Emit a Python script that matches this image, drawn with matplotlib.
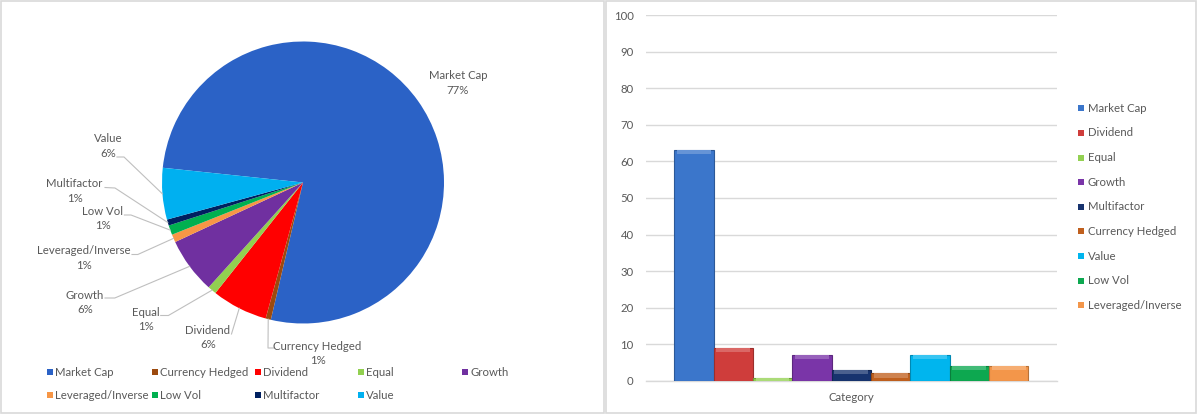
import numpy as np
import matplotlib
matplotlib.use("Agg")
import matplotlib.pyplot as plt
from matplotlib.patches import Rectangle
from matplotlib.colors import to_rgb

plt.rcParams['font.family'] = ['Lato', 'DejaVu Sans']

# ---------------- data ----------------
pie_labels = ["Market Cap", "Currency Hedged", "Dividend", "Equal", "Growth",
              "Leveraged/Inverse", "Low Vol", "Multifactor", "Value"]
pie_values = [77.0, 0.6, 6.4, 1.0, 6.4, 0.9, 1.1, 0.7, 5.9]
pie_colors = ["#2B62C6", "#9C4A0E", "#FF0000", "#92D050", "#7030A0",
              "#F79646", "#00B050", "#002060", "#00B0F0"]

bar_labels = ["Market Cap", "Dividend", "Equal", "Growth", "Multifactor",
              "Currency Hedged", "Value", "Low Vol", "Leveraged/Inverse"]
bar_values = [63, 9, 0.8, 7, 3, 2, 7, 4, 4]
bar_colors = ["#3B76CB", "#CF3D3B", "#93D152", "#7A35A8", "#17336E",
              "#C0601E", "#00B5EE", "#0DA850", "#F3964A"]
category = ["Category"]
yticks = list(range(0, 101, 10))

TXT = "#595959"
GRID = "#D9D9D9"
FS = 8.2

W, H = 1200, 416
fig = plt.figure(figsize=(12, 4.16), dpi=100)

# overlay axes in pixel units (y up)
ax0 = fig.add_axes([0, 0, 1, 1])

def Y(py):
    return H - py

# panel borders
ax0.add_patch(Rectangle((1, Y(413)), 603, 412.5, fill=False, ec="#D9D9D9", lw=1.2))
ax0.add_patch(Rectangle((605.5, Y(413)), 590.5, 412.5, fill=False, ec="#D9D9D9", lw=1.2))

# ---------------- pie ----------------
cx, cy, R = 303, Y(182.5), 141
wedges, _ = ax0.pie(pie_values, colors=pie_colors, startangle=174, counterclock=False,
                    center=(cx, cy), radius=R, wedgeprops=dict(linewidth=0))

# label layout (pixel positions of label centres and leader knees)
label_pos = [(458, 83), (317.6, 353.5), (207.8, 337.5), (146, 319.5), (85, 302.3),
             (83.5, 258), (102.6, 218.4), (74.6, 191), (108.5, 146)]
leader_knees = [None,
                [(273.6, 348), (268, 348)],
                [(231.5, 334)],
                [(160.7, 315.5), (168.4, 315.5)],
                [(105, 298), (114.8, 298)],
                [(132, 254.5), (137.8, 254.5)],
                [(124.4, 215), (131, 215)],
                [(105, 187.5), (115, 188)],
                [(117, 157), (124, 157)]]

for w, name, v, pos, knees in zip(wedges, pie_labels, pie_values, label_pos, leader_knees):
    ax0.text(pos[0], Y(pos[1]), f"{name}\n{round(v)}%", ha="center", va="center",
             fontsize=FS, color=TXT, linespacing=1.35)
    if knees:
        mid = np.deg2rad((w.theta1 + w.theta2) / 2)
        ex, ey = cx + R * np.cos(mid), cy + R * np.sin(mid)
        xs = [k[0] for k in knees] + [ex]
        ys = [Y(k[1]) for k in knees] + [ey]
        ax0.plot(xs, ys, color="#BFBFBF", lw=0.8)

# pie legend (manual, 2 rows)
col_x = [49.8, 155, 257.6, 360.5, 465]
row_y = [372.4, 395.2]
for i, (name, c) in enumerate(zip(pie_labels, pie_colors)):
    r, col = divmod(i, 5)
    mx, my = col_x[col], row_y[r]
    ax0.add_patch(Rectangle((mx - 3, Y(my) - 3), 6, 6, color=c, lw=0))
    ax0.text(mx + 5.5, Y(my), name, ha="left", va="center", fontsize=FS, color=TXT)

# bar legend (manual, vertical)
leg_y0, leg_dy = 108.2, 24.65
for i, (name, c) in enumerate(zip(bar_labels, bar_colors)):
    my = leg_y0 + i * leg_dy
    ax0.add_patch(Rectangle((1081.4 - 3, Y(my) - 3), 6, 6, color=c, lw=0))
    ax0.text(1088, Y(my), name, ha="left", va="center", fontsize=FS, color=TXT)

ax0.set_xlim(0, W)
ax0.set_ylim(0, H)
ax0.set_aspect("auto")
ax0.axis("off")

# ---------------- bars ----------------
left, right = 645.9, 1056.6
bot, top = 380.8, 15.1
ax2 = fig.add_axes([left / W, (H - bot) / H, (right - left) / W, (bot - top) / H])
ax2.set_facecolor("none")
n = len(bar_values)
xs = np.arange(n) - (n - 1) / 2

def mix(c, other, t):
    a, b = np.array(to_rgb(c)), np.array(to_rgb(other))
    return tuple(a * (1 - t) + b * t)

for x, v, c in zip(xs, bar_values, bar_colors):
    ax2.bar(x, v, width=1.0, color=c, edgecolor=mix(c, "black", 0.25), linewidth=0.8, zorder=3)
    hl = min(v, 1.1)
    ax2.bar(x, hl, bottom=v - hl, width=0.86, color=mix(c, "white", 0.22), linewidth=0, zorder=4)

ax2.set_xlim(-5.22, 5.22)
ax2.set_ylim(0, 100)
ax2.set_yticks(yticks)
ax2.set_yticklabels([str(t) for t in yticks], fontsize=FS, color=TXT)
ax2.set_xticks([0])
ax2.set_xticklabels(category, fontsize=FS, color=TXT)
ax2.tick_params(axis="y", length=0, pad=8.8)
ax2.tick_params(axis="x", length=0, pad=7.8)
ax2.grid(axis="y", color=GRID, lw=1.0, zorder=0)
for s in ["left", "right", "top"]:
    ax2.spines[s].set_visible(False)
ax2.spines["bottom"].set_color(GRID)
ax2.spines["bottom"].set_linewidth(1.0)

fig.savefig("out.png", dpi=100, facecolor="white")
